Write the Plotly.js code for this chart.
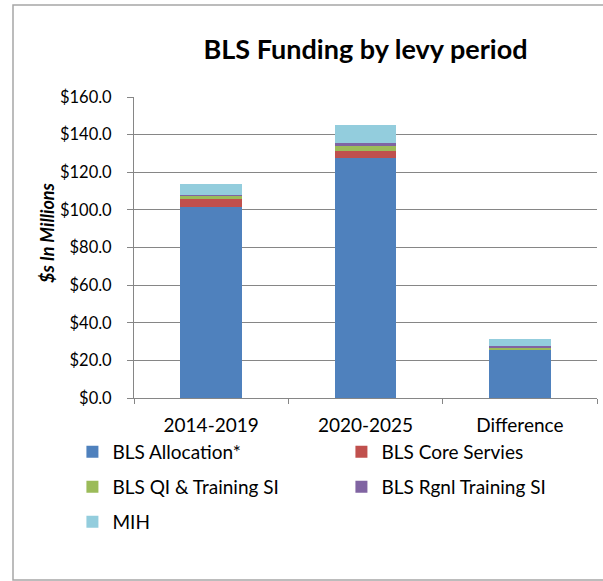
<!DOCTYPE html>
<html>
<head>
<meta charset="utf-8">
<script src="https://cdn.plot.ly/plotly-3.0.1.min.js"></script>
<style>html,body{margin:0;padding:0;background:#fff;}#chart{width:603px;height:581px;}</style>
</head>
<body>
<div id="chart"></div>
<script>
const categories = ['2014-2019', '2020-2025', 'Difference'];
const blsAllocation = [101.7, 127.4, 25.7];
const blsCore = [4.1, 4.1, 0.0];
const blsQI = [1.6, 2.6, 1.0];
const blsRgnl = [0.7, 1.6, 0.9];
const mih = [5.5, 9.4, 3.9];
const seriesNames = ['BLS Allocation*', 'BLS Core Servies', 'BLS QI & Training SI', 'BLS Rgnl Training SI', 'MIH'];
const yTickVals = [0, 20, 40, 60, 80, 100, 120, 140, 160];
const yTitle = '$s In Millions';

const FONT = 'Lato, "Open Sans", sans-serif';
const colors = ['#4F81BD', '#C0504D', '#9BBB59', '#8064A2', '#93CDDD'];
const legendIds = ['legend', 'legend2', 'legend3', 'legend4', 'legend5'];
const values = [blsAllocation, blsCore, blsQI, blsRgnl, mih];

const traces = values.map((v, i) => ({
  type: 'bar',
  x: categories,
  y: v,
  name: seriesNames[i],
  marker: {color: colors[i], line: {width: 0}},
  legend: legendIds[i],
  hoverinfo: 'name+y'
}));

// legend slots: [x (paper), y pixel center]
const colX = [-0.133, 0.448];
const rowY = [452, 487, 522].map(p => (398 - p) / 301);
const slots = [[colX[0], rowY[0]], [colX[1], rowY[0]], [colX[0], rowY[1]], [colX[1], rowY[1]], [colX[0], rowY[2]]];

const layout = {
  width: 603,
  height: 581,
  margin: {l: 134, r: 6, t: 97, b: 183},
  paper_bgcolor: '#fff',
  plot_bgcolor: '#fff',
  barmode: 'stack',
  bargap: 0.6,
  title: {
    text: '<b>BLS Funding by levy period</b>',
    font: {family: FONT, size: 27, color: '#000'},
    x: 0.5, xref: 'paper', xanchor: 'center',
    y: 1 - 50 / 581, yref: 'container', yanchor: 'middle'
  },
  xaxis: {
    type: 'category',
    showgrid: false,
    showline: true,
    linecolor: '#868686',
    linewidth: 1,
    ticks: 'outside',
    tickson: 'boundaries',
    ticklen: 5,
    tickcolor: '#868686',
    ticklabelstandoff: 10,
    tickfont: {family: FONT, size: 19, color: '#000'},
    automargin: false
  },
  yaxis: {
    range: [0, 160],
    tickvals: yTickVals,
    tickformat: '$,.1f',
    showgrid: true,
    gridcolor: '#868686',
    gridwidth: 1,
    showline: true,
    linecolor: '#868686',
    linewidth: 1,
    ticks: 'outside',
    ticklen: 6,
    tickcolor: '#868686',
    ticklabelstandoff: 12,
    tickfont: {family: FONT, size: 16.5, color: '#000'},
    zeroline: false,
    automargin: false
  },
  annotations: [{
    text: '<b><i>' + yTitle + '</i></b>',
    xref: 'paper', yref: 'paper',
    x: (47 - 134) / 463, y: (398 - 233) / 301,
    xanchor: 'center', yanchor: 'middle',
    textangle: -90,
    showarrow: false,
    font: {family: FONT, size: 18, color: '#000'}
  }],
  shapes: [{
    type: 'rect', xref: 'paper', yref: 'paper',
    x0: (13 - 134) / 463, x1: (620 - 134) / 463,
    y0: (398 - 580) / 301, y1: (398 - 5) / 301,
    line: {color: '#A6A6A6', width: 1.5},
    fillcolor: 'rgba(0,0,0,0)',
    layer: 'below'
  }],
  showlegend: true
};

legendIds.forEach((id, i) => {
  layout[id] = {
    orientation: 'h',
    xanchor: 'left',
    yanchor: 'middle',
    x: slots[i][0],
    y: slots[i][1],
    itemwidth: 30,
    font: {family: FONT, size: 19, color: '#000'},
    bgcolor: 'rgba(0,0,0,0)'
  };
});

Plotly.newPlot('chart', traces, layout, {displayModeBar: false});
</script>
</body>
</html>
